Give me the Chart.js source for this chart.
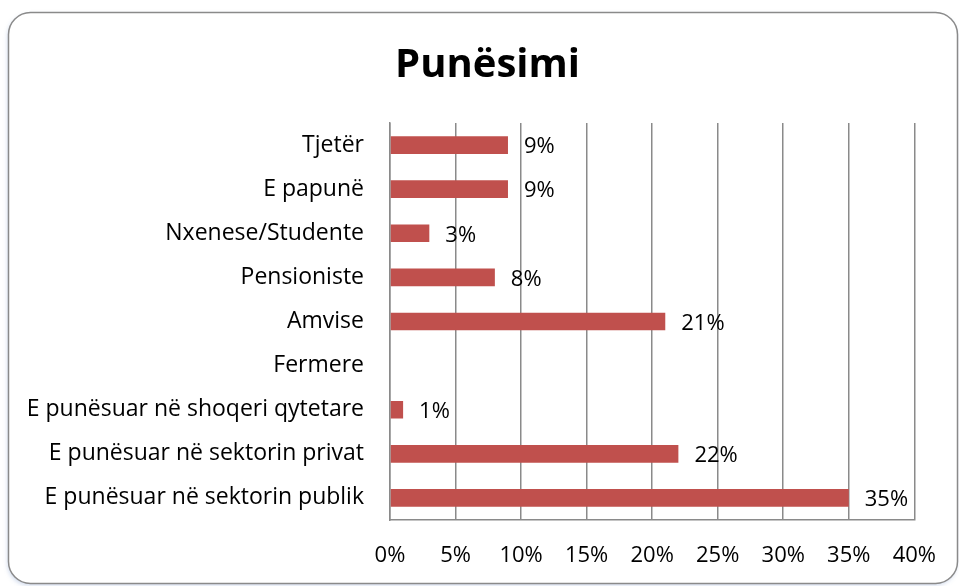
<!DOCTYPE html>
<html lang="sq">
<head>
<meta charset="UTF-8">
<title>Punësimi</title>
<script src="https://cdn.jsdelivr.net/npm/chart.js@4/dist/chart.umd.min.js"></script>
<style>
*{margin:0;padding:0;box-sizing:border-box}
body{background:#fff}
#wrap{position:relative;width:959px;height:586px}
</style>
</head>
<body>
<div id="wrap"><canvas id="chart" width="959" height="586"></canvas></div>
<script>
// data
const chartTitle = "Punësimi";
const categories = [
  "Tjetër",
  "E papunë",
  "Nxenese/Studente",
  "Pensioniste",
  "Amvise",
  "Fermere",
  "E punësuar në shoqeri qytetare",
  "E punësuar në sektorin privat",
  "E punësuar në sektorin publik"
];
const values = [9, 9, 3, 8, 21, 0, 1, 22, 35];
const tickValues = [0, 5, 10, 15, 20, 25, 30, 35, 40];

const FONT = "'Open Sans', Lato, sans-serif";
const barColor = "#C0504D";
const gridColor = "#8a8a8a";

// rounded frame behind the chart
const framePlugin = {
  id: "frame",
  beforeDraw(chart) {
    const ctx = chart.ctx;
    const x = 8.5, y = 12.5, w = 949, h = 571, r = 22;
    ctx.save();
    ctx.beginPath();
    ctx.moveTo(x + r, y);
    ctx.lineTo(x + w - r, y);
    ctx.arcTo(x + w, y, x + w, y + r, r);
    ctx.lineTo(x + w, y + h - r);
    ctx.arcTo(x + w, y + h, x + w - r, y + h, r);
    ctx.lineTo(x + r, y + h);
    ctx.arcTo(x, y + h, x, y + h - r, r);
    ctx.lineTo(x, y + r);
    ctx.arcTo(x, y, x + r, y, r);
    ctx.closePath();
    ctx.shadowColor = "rgba(120,150,200,0.35)";
    ctx.shadowBlur = 4;
    ctx.shadowOffsetX = -1;
    ctx.shadowOffsetY = 2;
    ctx.fillStyle = "#fff";
    ctx.fill();
    ctx.shadowColor = "transparent";
    ctx.lineWidth = 1.5;
    ctx.strokeStyle = "#8a8a8a";
    ctx.stroke();
    ctx.restore();
  }
};

// title centred on the frame, not on the plot
const titlePlugin = {
  id: "frameTitle",
  afterDraw(chart) {
    const ctx = chart.ctx;
    ctx.save();
    ctx.font = "bold 40px " + FONT;
    ctx.fillStyle = "#000";
    ctx.textAlign = "center";
    ctx.textBaseline = "alphabetic";
    ctx.fillText(chartTitle, 487.5, 77);
    ctx.restore();
  }
};

// value labels to the right of each bar
const valueLabels = {
  id: "valueLabels",
  afterDatasetsDraw(chart) {
    const ctx = chart.ctx;
    const meta = chart.getDatasetMeta(0);
    ctx.save();
    ctx.font = "22px " + FONT;
    ctx.fillStyle = "#000";
    ctx.textAlign = "left";
    ctx.textBaseline = "middle";
    meta.data.forEach(function (bar, i) {
      const v = values[i];
      if (!v) return;
      ctx.fillText(v + "%", bar.x + 16, bar.y + 2);
    });
    ctx.restore();
  }
};

new Chart(document.getElementById("chart"), {
  type: "bar",
  data: {
    labels: categories,
    datasets: [{
      data: values,
      backgroundColor: barColor,
      borderWidth: 0,
      barPercentage: 0.4,
      categoryPercentage: 1
    }]
  },
  options: {
    indexAxis: "y",
    responsive: false,
    animation: false,
    devicePixelRatio: 1,
    layout: { padding: { left: 16, right: 43, top: 123, bottom: 0 } },
    plugins: {
      legend: { display: false },
      tooltip: { enabled: false },
      title: { display: false }
    },
    scales: {
      x: {
        min: 0,
        max: 40,
        afterBuildTicks: function (scale) {
          scale.ticks = tickValues.map(function (v) { return { value: v }; });
        },
        afterFit: function (scale) { scale.height = 66; },
        grid: { color: gridColor, lineWidth: 1.5, drawTicks: false },
        border: { display: true, color: gridColor, width: 1.5 },
        ticks: {
          color: "#000",
          padding: 23,
          font: { family: FONT, size: 22 },
          callback: function (v) { return v + "%"; }
        }
      },
      y: {
        afterFit: function (scale) { scale.width = 374; },
        grid: { display: false, drawTicks: false },
        border: { display: true, color: gridColor, width: 1.5 },
        ticks: {
          color: "#000",
          padding: 26,
          autoSkip: false,
          font: { family: FONT, size: 23 }
        }
      }
    }
  },
  plugins: [framePlugin, valueLabels, titlePlugin]
});
</script>
</body>
</html>
